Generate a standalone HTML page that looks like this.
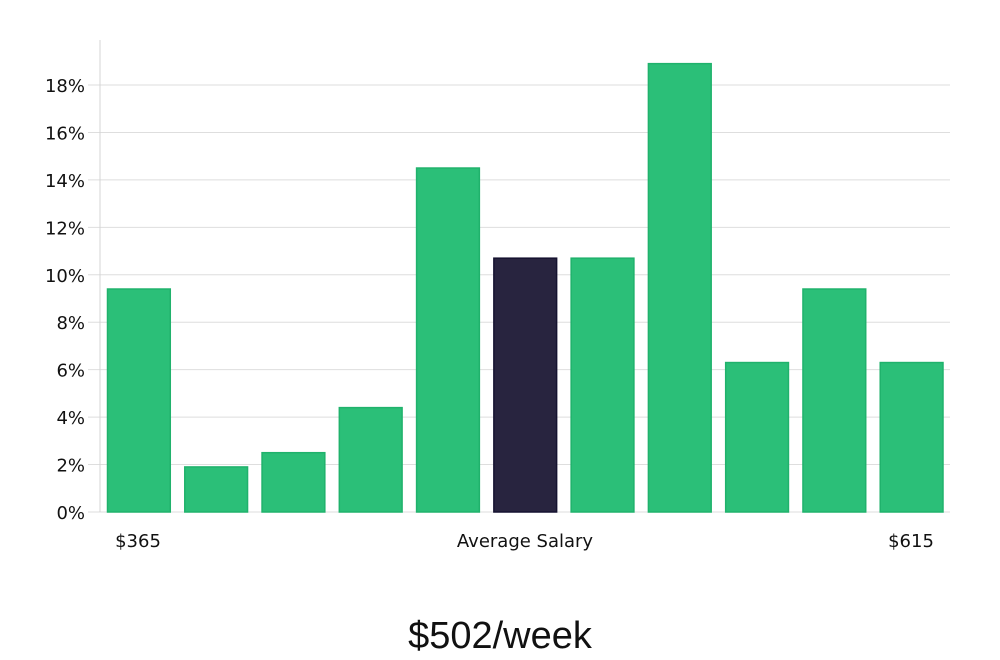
<!DOCTYPE html>
<html><head><meta charset="utf-8"><style>
html,body{margin:0;padding:0;background:#fff;width:1000px;height:660px;overflow:hidden}
svg text{font-family:"DejaVu Sans","Liberation Sans",sans-serif}
</style></head><body>
<svg id="chart" width="1000" height="660" viewBox="0 0 1000 660" xmlns="http://www.w3.org/2000/svg">
<g id="grid"></g>
<g id="bars"></g>
<line x1="100" y1="40" x2="100" y2="512" stroke="#d4d4d4" stroke-width="1"/>
<g id="yticks"></g>
<text x="138" y="547" font-size="18" text-anchor="middle" fill="#111">$365</text>
<text x="525" y="547" font-size="18" text-anchor="middle" fill="#111">Average Salary</text>
<text x="911" y="547" font-size="18" text-anchor="middle" fill="#111">$615</text>
<text x="500" y="648" font-size="38" text-anchor="middle" fill="#111" style="font-family:'Liberation Sans Narrow','Liberation Sans',sans-serif;font-weight:300">$502/week</text>
</svg>
<script>
const values = [9.4, 1.9, 2.5, 4.4, 14.5, 10.7, 10.7, 18.9, 6.3, 9.4, 6.3];
const highlight = [false, false, false, false, false, true, false, false, false, false, false];
const ticks = [0, 2, 4, 6, 8, 10, 12, 14, 16, 18];
const tickLabels = ["0%", "2%", "4%", "6%", "8%", "10%", "12%", "14%", "16%", "18%"];
const NS = "http://www.w3.org/2000/svg";
const x0 = 100, x1 = 950, yBase = 512, pxPer = (512 - 85) / 18;
const y = v => yBase - v * pxPer;
const slot = (x1 - x0) / values.length;
const grid = document.getElementById('grid'), yt = document.getElementById('yticks'), bars = document.getElementById('bars');
ticks.forEach((t, i) => {
  const l = document.createElementNS(NS, 'line');
  
  
  l.setAttribute('x1', 88); l.setAttribute('x2', x1);
  l.setAttribute('y1', y(t)); l.setAttribute('y2', y(t));
  l.setAttribute('stroke', '#dedede'); l.setAttribute('stroke-width', 1);
  grid.appendChild(l);
  const tx = document.createElementNS(NS, 'text');
  
  
  tx.setAttribute('x', 85); tx.setAttribute('y', y(t) + 7);
  tx.setAttribute('font-size', 18); tx.setAttribute('text-anchor', 'end'); tx.setAttribute('fill', '#111');
  tx.textContent = tickLabels[i];
  yt.appendChild(tx);
});
values.forEach((v, i) => {
  const r = document.createElementNS(NS, 'rect');
  
  
  const bx = x0 + i * slot + 7.5, bw = slot - 14.5;
  r.setAttribute('x', bx); r.setAttribute('y', y(v));
  r.setAttribute('width', bw); r.setAttribute('height', yBase - y(v));
  r.setAttribute('fill', highlight[i] ? '#28243f' : '#2bbf78');
  r.setAttribute('stroke', highlight[i] ? '#151230' : '#20b26c');
  r.setAttribute('stroke-width', 1.5);
  bars.appendChild(r);
});
</script>
</body></html>
